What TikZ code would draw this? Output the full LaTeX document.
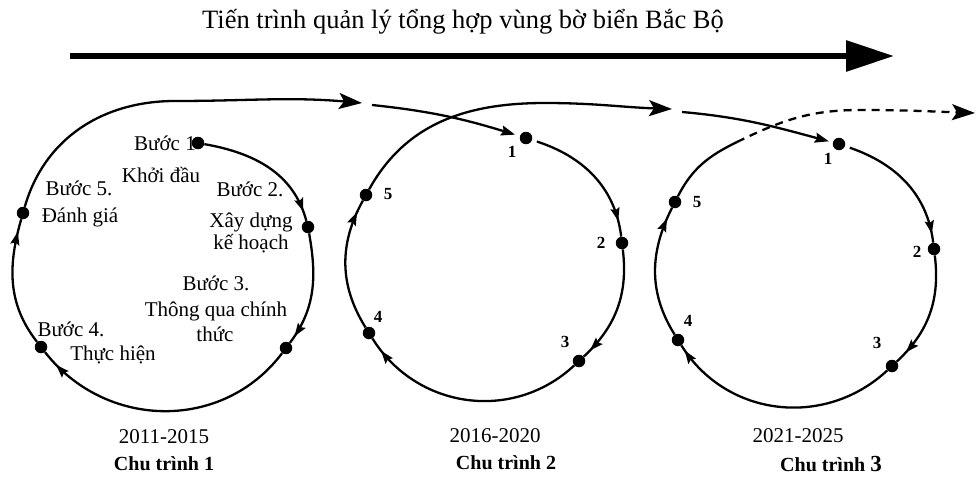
\documentclass[tikz,border=0pt]{standalone}
\usepackage{fontspec}
\setmainfont{Liberation Serif}
\usetikzlibrary{arrows.meta,decorations.markings,calc}
\begin{document}
\begin{tikzpicture}[x=1pt,y=1pt,
  dot/.style={circle,fill=black,inner sep=0pt,minimum size=12.5pt},
  ring/.style={line width=2.3pt},
  lbl/.style={font=\fontsize{21}{24}\selectfont,inner sep=0pt},
  num/.style={font=\bfseries\fontsize{17}{19}\selectfont,inner sep=0pt},
  yr/.style={font=\fontsize{21}{24}\selectfont,inner sep=0pt},
  cyc/.style={font=\bfseries\fontsize{20}{24}\selectfont,inner sep=0pt},
  midarr/.style={postaction={decorate},decoration={markings,mark=at position #1 with {\arrow{Stealth[length=13pt,width=9pt,inset=2pt]}}}},
  bigtip/.style={-{Stealth[length=23pt,width=16pt,inset=5pt]}},
  smalltip/.style={-{Stealth[length=14pt,width=10pt,inset=2pt]}},
  dashline/.style={dash pattern=on 8pt off 6pt},
]
\useasboundingbox (0,0) rectangle (976,-476);

% title and main arrow
\node[font=\fontsize{26.5}{30}\selectfont,inner sep=0pt] (title) at (463,-22) {Tiến trình quản lý tổng hợp vùng bờ biển Bắc Bộ};
\coordinate (ts) at (70,-56);
\coordinate (te) at (894,-56);
\draw[line width=6pt,-{Triangle[length=48pt,width=30pt]}] (ts) -- (te);

% ---------- cycle 1 ----------
\node[lbl,anchor=east] (l1a) at (196,-143) {Bước 1};
\node[dot] (a1) at (198,-143) {};
\node[dot] (a2) at (308,-227) {};
\node[dot] (a3) at (286,-348) {};
\node[dot] (a4) at (41,-347) {};
\node[dot] (a5) at (23,-213) {};
\node[lbl] (l1b) at (161,-175) {Khởi đầu};
\node[lbl] (l5a) at (79,-188) {Bước 5.};
\node[lbl] (l5b) at (80,-217) {Đánh giá};
\node[lbl] (l2a) at (250,-189) {Bước 2.};
\node[lbl] (l2b) at (251,-222) {Xây dựng};
\node[lbl] (l2c) at (251,-244) {kế hoạch};
\node[lbl] (l3a) at (216,-283) {Bước 3.};
\node[lbl] (l3b) at (216,-311) {Thông qua chính};
\node[lbl] (l3c) at (215,-334) {thức};
\node[lbl] (l4a) at (71,-329) {Bước 4.};
\node[lbl] (l4b) at (113,-355) {Thực hiện};

\draw[ring,midarr=-10pt] (a1) to[out=-10,in=105] (a2);
\draw[ring,midarr=-8pt] (a2) to[out=-80,in=53] (a3);
\draw[ring,midarr=-17pt] (a3) to[out=-127,in=-52,looseness=1.06] (a4);
\draw[ring,midarr=-13pt] (a4) to[out=128,in=-106] (a5);
\coordinate (t1) at (175,-101);
\coordinate (e1) at (362,-103);
\draw[ring,bigtip] (a5) to[out=74,in=180] (t1) to[out=0,in=175] (e1);

% ---------- cycle 2 ----------
\node[dot] (b1) at (526,-138) {};
\node[dot] (b2) at (622,-243) {};
\node[dot] (b3) at (579,-361) {};
\node[dot] (b4) at (369,-333) {};
\node[dot] (b5) at (366,-195) {};
\node[num] (n21) at (512,-152) {1};
\node[num] (n22) at (601,-243) {2};
\node[num] (n23) at (565,-342) {3};
\node[num] (n24) at (378,-317) {4};
\node[num] (n25) at (388,-194) {5};
\coordinate (s2) at (372,-105);
\draw[ring,smalltip,shorten >=5pt] (s2) to[out=-6,in=163] (b1);
\draw[ring,midarr=-16pt,shorten <=5pt] (b1) to[out=-18,in=97] (b2);
\draw[ring,midarr=-9pt] (b2) to[out=-83,in=43] (b3);
\draw[ring,midarr=-15pt] (b3) to[out=-137,in=-58,looseness=1.05] (b4);
\draw[ring,midarr=-13pt] (b4) to[out=122,in=-119] (b5);
\coordinate (t2) at (545,-103);
\coordinate (e2) at (672,-109);
\draw[ring,bigtip] (b5) to[out=61,in=180] (t2) to[out=0,in=178] (e2);

% ---------- cycle 3 ----------
\node[dot] (c1) at (839,-144) {};
\node[dot] (c2) at (934,-249) {};
\node[dot] (c3) at (892,-366) {};
\node[dot] (c4) at (678,-340) {};
\node[dot] (c5) at (675,-202) {};
\node[num] (n31) at (828,-159) {1};
\node[num] (n32) at (917,-252) {2};
\node[num] (n33) at (877,-343) {3};
\node[num] (n34) at (688,-321) {4};
\node[num] (n35) at (697,-202) {5};
\coordinate (s3) at (682,-112);
\draw[ring,smalltip,shorten >=4pt] (s3) to[out=-5,in=165] (c1);
\draw[ring,midarr=-9pt,shorten <=5pt] (c1) to[out=-19,in=97] (c2);
\draw[ring,midarr=-13pt] (c2) to[out=-83,in=43] (c3);
\draw[ring,midarr=-6pt] (c3) to[out=-137,in=-58,looseness=1.05] (c4);
\draw[ring,midarr=-12pt] (c4) to[out=122,in=-117] (c5);
\coordinate (k3) at (737,-142);
\coordinate (t3) at (860,-110);
\coordinate (e3) at (975,-113);
\draw[ring] (c5) to[out=63,in=-154] (k3);
\draw[ring,dashline,bigtip] (k3) to[out=26,in=180] (t3) to[out=0,in=178] (e3);

% ---------- bottom labels ----------
\node[yr] (y1) at (164,-437) {2011-2015};
\node[cyc] (z1) at (164,-464) {Chu trình 1};
\node[yr] (y2) at (495,-436) {2016-2020};
\node[cyc] (z2) at (506,-463) {Chu trình 2};
\node[yr] (y3) at (798,-436) {2021-2025};
\node[cyc] (z3) at (831,-464) {Chu trình {\fontsize{23}{24}\selectfont 3}};
\end{tikzpicture}
\end{document}
